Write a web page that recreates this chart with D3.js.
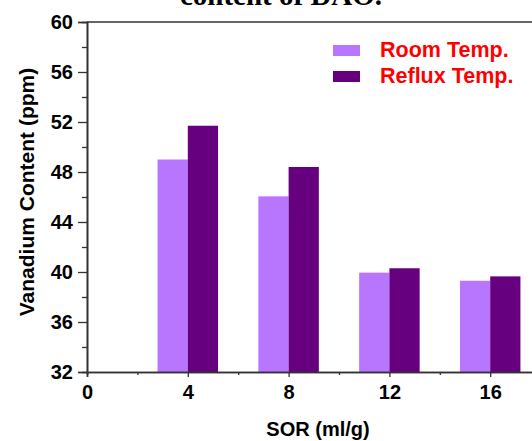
<!DOCTYPE html>
<html><head><meta charset="utf-8">
<script src="https://cdn.jsdelivr.net/npm/d3@7"></script>
<style>body{margin:0;background:#fff}svg{display:block}</style>
</head><body>
<script>
const sorValues = [4, 8, 12, 16];
const roomTemp = [49.0, 46.05, 39.95, 39.3];
const refluxTemp = [51.7, 48.4, 40.3, 39.65];
const seriesNames = ["Room Temp.", "Reflux Temp."];
const yTicks = [32, 36, 40, 44, 48, 52, 56, 60];
const xTicks = [0, 4, 8, 12, 16];
const titleText = "content of DAO.";

const W = 532, H = 441;
const svg = d3.select("body").append("svg").attr("width", W).attr("height", H);
const x = d3.scaleLinear().domain([0, 20]).range([87, 591]);
const y = d3.scaleLinear().domain([32, 60]).range([372, 22]);
const colors = ["#b776fd", "#67007f"];
const barW = 1.2;
const sans = "Liberation Sans, Arial, sans-serif";

// title (cut off at top)
svg.append("text").attr("x", 281).attr("y", 5).attr("text-anchor", "middle")
  .attr("font-family", "Liberation Serif, Times New Roman, serif").attr("font-weight", "bold")
  .attr("font-size", 29).attr("fill", "#000").text(titleText);

// bars
const g = svg.append("g");
[roomTemp, refluxTemp].forEach((vals, si) => {
  g.selectAll(".b" + si).data(sorValues).enter().append("rect")
    .attr("x", d => si === 0 ? x(d - barW) : x(d))
    .attr("width", x(barW) - x(0))
    .attr("y", (d, i) => y(vals[i]))
    .attr("height", (d, i) => y(32) - y(vals[i]))
    .attr("fill", colors[si]);
});

const axisColor = "#333";
// y axis
const yAxis = d3.axisLeft(y).tickValues(yTicks).tickSize(9).tickPadding(5);
svg.append("g").attr("transform", `translate(${x(0)},0)`).call(yAxis);
const yMinor = d3.axisLeft(y).tickValues(d3.range(34, 60, 4)).tickSize(5).tickFormat("");
svg.append("g").attr("transform", `translate(${x(0)},0)`).call(yMinor);
// x axis
const xAxis = d3.axisBottom(x).tickValues(xTicks).tickSize(5).tickPadding(8);
const xa = svg.append("g").attr("transform", `translate(0,${y(32)})`).call(xAxis);
const xMinor = d3.axisBottom(x).tickValues(d3.range(2, 20, 4)).tickSize(3).tickFormat("");
svg.append("g").attr("transform", `translate(0,${y(32)})`).call(xMinor);
// top frame
svg.append("line").attr("x1", x(0)).attr("x2", x(20)).attr("y1", y(60)).attr("y2", y(60))
  .attr("stroke", axisColor).attr("stroke-width", 1.6);

svg.selectAll(".domain").attr("stroke", axisColor).attr("stroke-width", 1.6);
svg.selectAll(".tick line").attr("stroke", axisColor).attr("stroke-width", 1.3);
svg.selectAll(".tick text").attr("font-family", sans)
  .attr("font-weight", "bold").attr("font-size", 20).attr("fill", "#000");

// axis labels
svg.append("text").attr("x", 318).attr("y", 436).attr("text-anchor", "middle")
  .attr("font-family", sans).attr("font-weight", "bold")
  .attr("font-size", 20).text("SOR (ml/g)");
svg.append("text").attr("transform", `translate(34,${y(46.4)}) rotate(-90)`).attr("text-anchor", "middle")
  .attr("font-family", sans).attr("font-weight", "bold")
  .attr("font-size", 21).text("Vanadium Content (ppm)");

// legend
const leg = svg.append("g");
seriesNames.forEach((n, i) => {
  leg.append("rect").attr("x", 333).attr("y", 45 + i * 26).attr("width", 27).attr("height", 11).attr("fill", colors[i]);
  leg.append("text").attr("x", 380).attr("y", 57 + i * 26)
    .attr("font-family", sans).attr("font-weight", "bold")
    .attr("font-size", 21.5).attr("fill", "#ff0000").text(n);
});
</script>
</body></html>
